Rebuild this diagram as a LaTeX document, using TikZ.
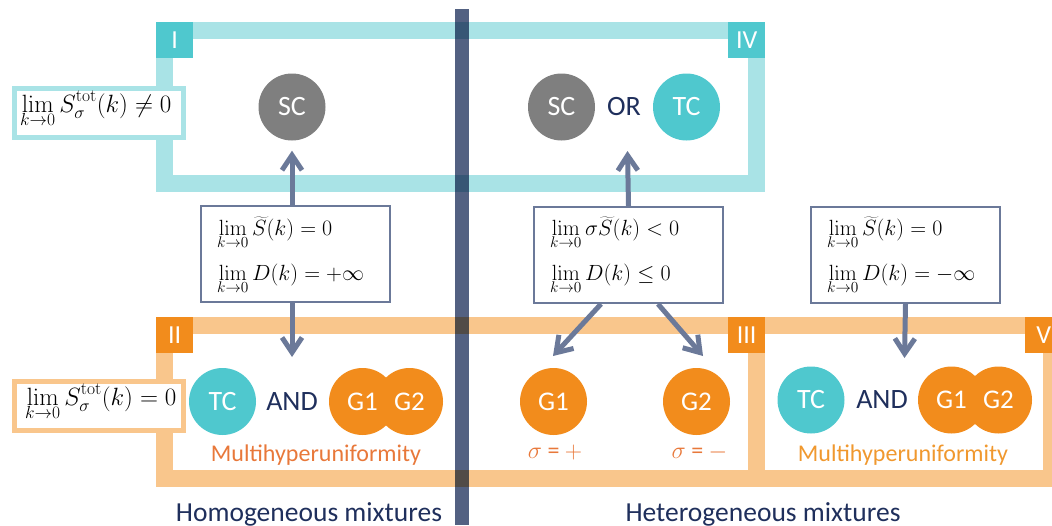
\RequirePackage{fix-cm}
\documentclass[tikz,border=0pt]{standalone}
\usepackage[no-math]{fontspec}
\setmainfont{Carlito}
\usetikzlibrary{arrows.meta,calc}
\definecolor{tealL}{HTML}{A9E3E6}
\definecolor{tealD}{HTML}{4FC8CE}
\definecolor{orangeL}{HTML}{F9C68C}
\definecolor{orangeD}{HTML}{F28C1C}
\definecolor{grayC}{HTML}{7F7F7F}
\definecolor{navy}{HTML}{1F2F5C}
\definecolor{barC}{HTML}{536182}
\definecolor{slate}{HTML}{6B7999}
\definecolor{multA}{HTML}{E8783A}
\definecolor{multB}{HTML}{F0982E}
\begin{document}
\begin{tikzpicture}[x=1pt,y=-1pt,
  frameT/.style={draw=tealL,line width=17pt},
  frameO/.style={draw=orangeL,line width=17pt},
  tagT/.style={fill=tealD,minimum width=37pt,minimum height=36pt,inner sep=0pt,text=white,font=\fontsize{26}{26}\selectfont,anchor=north west},
  tagO/.style={tagT,fill=orangeD},
  circ/.style={circle,minimum size=67pt,inner sep=0pt,text=white,font=\fontsize{28}{28}\selectfont},
  ctext/.style={inner sep=0pt,text=white,font=\fontsize{27}{27}\selectfont},
  word/.style={inner sep=0pt,text=navy,font=\fontsize{28}{28}\selectfont},
  condbox/.style={draw=slate,line width=2pt,minimum width=189pt,minimum height=96pt,inner sep=0pt,anchor=north west,fill=white},
  limbox/.style={line width=5pt,minimum width=169pt,minimum height=49pt,inner sep=0pt,anchor=north west,fill=white},
  mathtxt/.style={anchor=base west,inner sep=0pt,font=\fontsize{22}{26}\selectfont},
  limtxt/.style={anchor=base west,inner sep=0pt,font=\fontsize{25}{28}\selectfont},
  arr/.style={draw=slate,line width=5pt,-{Straight Barb[length=15pt,width=20pt]}},
  mhu/.style={inner sep=0pt,font=\fontsize{24}{24}\selectfont},
  sig/.style={inner sep=0pt,text=multA,font=\fontsize{24}{24}\selectfont},
  caption/.style={inner sep=0pt,text=navy,font=\fontsize{27.5}{28}\selectfont,anchor=base},
]
\useasboundingbox (0,0) rectangle (1052,525);

% frames
\draw[frameT] (164.5,30.5) rectangle (756.5,183.5);
\draw[frameO] (164.5,325.5) rectangle (756.5,478.5);
\draw[frameO] (756.5,325.5) rectangle (1051.5,478.5);

% limit boxes (left)
\node[limbox,draw=tealL] (limT) at (11.5,85.5) {};
\node[limbox,draw=orangeL] (limO) at (11.5,378.5) {};
\node[limtxt] (limTt) at (20,112) {$\displaystyle\lim_{k\to0}S_\sigma^{\mathrm{tot}}(k)\neq0$};
\node[limtxt] (limOt) at (25,405) {$\displaystyle\lim_{k\to0}S_\sigma^{\mathrm{tot}}(k)=0$};

% tags
\node[tagT] (tI) at (156,22) {I};
\node[tagT] (tIV) at (728,22) {IV};
\node[tagO] (tII) at (156,317) {II};
\node[tagO] (tIII) at (728,317) {III};
\node[tagO] (tV) at (1025,317) {V};

% divider bar
\begin{scope}[blend mode=multiply]
\fill[barC] (455,9) rectangle (469,525);
\end{scope}

% top circles
\node[circ,fill=grayC] (sc1) at (292,107) {SC};
\node[circ,fill=grayC] (sc2) at (561.5,107) {SC};
\node[word] (or) at (624,107) {OR};
\node[circ,fill=tealD] (tc1) at (686.5,107) {TC};

% bottom left
\node[circ,fill=tealD] (tc2) at (222.5,401.5) {TC};
\node[word] (and1) at (292,402) {AND};
\node[circ,fill=orangeD] (g1a) at (362.5,401.5) {};
\node[circ,fill=orangeD] (g2a) at (409.5,401.5) {};
\node[ctext] (g1at) at (g1a) {G1};
\node[ctext] (g2at) at (g2a) {G2};
\node[mhu,text=multA] (mh1) at (316,455) {Multihyperuniformity};

% bottom middle
\node[circ,fill=orangeD,font=\fontsize{27}{27}\selectfont] (g1b) at (553.5,401.5) {G1};
\node[circ,fill=orangeD,font=\fontsize{27}{27}\selectfont] (g2b) at (696.5,401.5) {G2};
\node[sig] (s1) at (555,452) {$\sigma$ = $+$};
\node[sig] (s2) at (699.5,452) {$\sigma$ = $-$};

% bottom right
\node[circ,fill=tealD] (tc3) at (811,400) {TC};
\node[word] (and2) at (882,400) {AND};
\node[circ,fill=orangeD] (g1c) at (951.5,400) {};
\node[circ,fill=orangeD] (g2c) at (998.5,400) {};
\node[ctext] (g1ct) at (g1c) {G1};
\node[ctext] (g2ct) at (g2c) {G2};
\node[mhu,text=multB] (mh2) at (903,455) {Multihyperuniformity};

% condition boxes
\node[condbox] (b1) at (200,205) {};
\node[mathtxt] (b1a) at (217,235) {$\displaystyle\lim_{k\to0}\widetilde{S}(k)=0$};
\node[mathtxt] (b1b) at (217,280) {$\displaystyle\lim_{k\to0}D(k)=+\infty$};
\node[condbox] (b2) at (533,206) {};
\node[mathtxt] (b2a) at (550,235) {$\displaystyle\lim_{k\to0}\sigma\widetilde{S}(k)<0$};
\node[mathtxt] (b2b) at (550,280) {$\displaystyle\lim_{k\to0}D(k)\le0$};
\node[condbox] (b3) at (810,206) {};
\node[mathtxt] (b3a) at (827,235) {$\displaystyle\lim_{k\to0}\widetilde{S}(k)=0$};
\node[mathtxt] (b3b) at (827,280) {$\displaystyle\lim_{k\to0}D(k)=-\infty$};

% arrow end points
\coordinate (t1) at (292,357);
\coordinate (t2) at (627.5,151);
\coordinate (t3) at (553,356);
\coordinate (t4) at (703,356);
\coordinate (t5) at (904.5,358);

% arrows
\draw[arr] (sc1 |- b1.north) -- ([yshift=-10pt]sc1.south);
\draw[arr] (sc1 |- b1.south) -- (t1);
\draw[arr] (b2.north) -- (t2);
\draw[arr] ($(b2.south)+(-27.5,0)$) -- (t3);
\draw[arr] ($(b2.south)+(29.5,0)$) -- (t4);
\draw[arr] (b3.south) -- (t5);

% captions
\node[caption] (hom) at (309,521) {Homogeneous mixtures};
\node[caption] (het) at (763,521) {Heterogeneous mixtures};
\end{tikzpicture}
\end{document}
